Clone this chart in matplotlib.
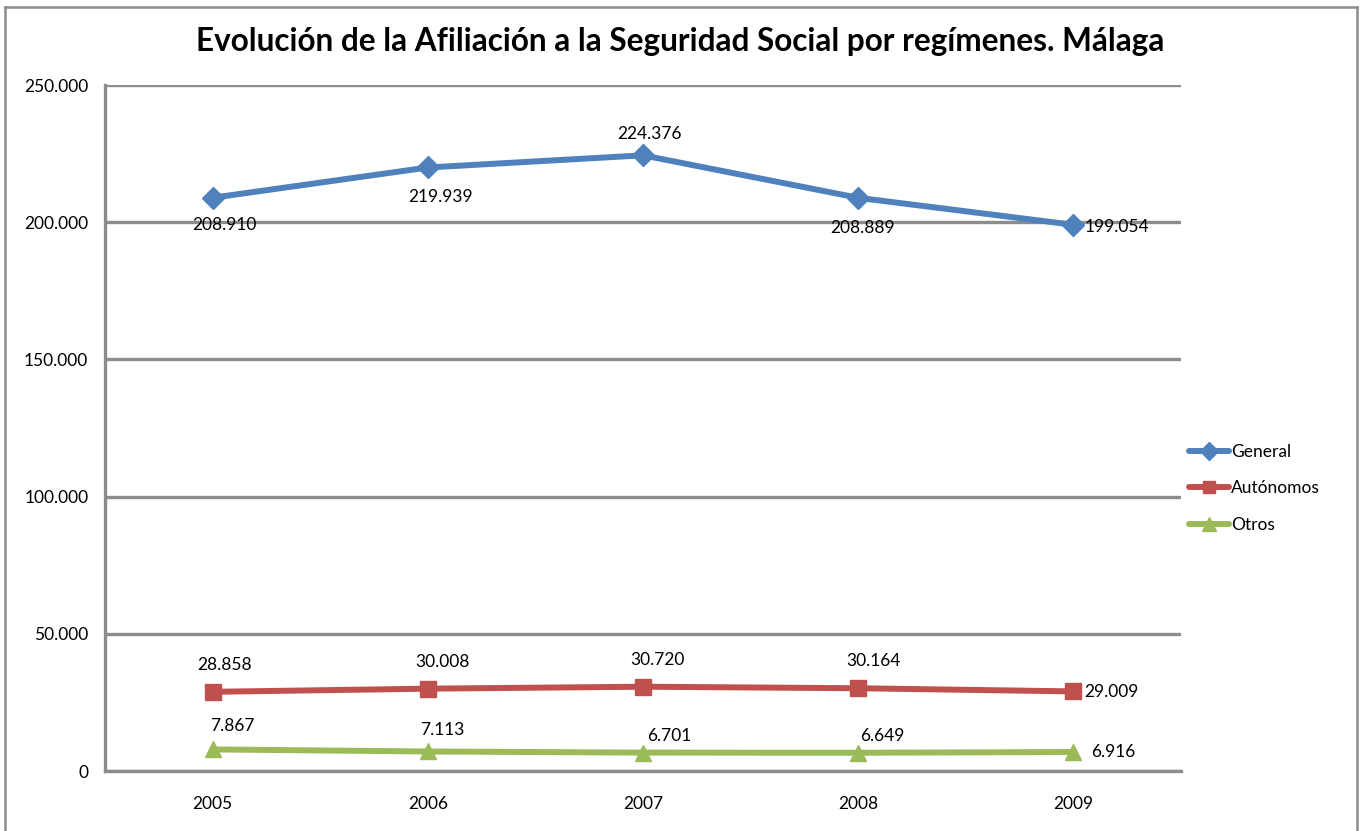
import matplotlib
matplotlib.use('Agg')
import matplotlib.pyplot as plt
from matplotlib.lines import Line2D
from matplotlib.ticker import FuncFormatter

years = ['2005', '2006', '2007', '2008', '2009']
general = [208910, 219939, 224376, 208889, 199054]
autonomos = [28858, 30008, 30720, 30164, 29009]
otros = [7867, 7113, 6701, 6649, 6916]

plt.rcParams['font.family'] = ['Lato', 'DejaVu Sans']


def miles(v, pos=None):
    return '{:,.0f}'.format(v).replace(',', '.')


fig = plt.figure(figsize=(13.63, 8.31), dpi=100)
ax = fig.add_axes([0.077, 0.0722, 0.7895, 0.8255])

x = list(range(len(years)))
series = [
    ('General', general, '#4F81BD', 'D', 11),
    ('Autónomos', autonomos, '#C0504D', 's', 11),
    ('Otros', otros, '#9BBB59', '^', 12),
]
for name, vals, col, mk, ms in series:
    ax.plot(x, vals, color=col, lw=4.3, marker=mk, ms=ms, label=name,
            solid_capstyle='round')

# label offsets in pixels (dx, dy)
offs = {
    'General': [(12, -27), (13, -30), (6, 21), (4, -30), (44, -2)],
    'Autónomos': [(12, 27), (15, 27), (15, 27), (15, 27), (38, -1)],
    'Otros': [(20, 23), (15, 21), (26, 17), (24, 17), (40, 0)],
}
for name, vals, col, mk, ms in series:
    for i, v in enumerate(vals):
        dx, dy = offs[name][i]
        ax.annotate(miles(v), (i, v), xytext=(dx, dy), textcoords='offset pixels',
                    ha='center', va='center', fontsize=12.5, color='black')

ax.set_xlim(-0.5, 4.5)
ax.set_ylim(0, 250000)
ax.set_xticks(x)
ax.set_xticklabels(years)
ax.set_yticks(range(0, 250001, 50000))
ax.yaxis.set_major_formatter(FuncFormatter(miles))
ax.tick_params(length=0, labelsize=12.5, pad=12)
ax.tick_params(axis='x', pad=18)
ax.grid(axis='y', color='#8C8C8C', lw=2.4)
ax.set_axisbelow(True)
for s in ['top', 'right']:
    ax.spines[s].set_visible(False)
for s in ['left', 'bottom']:
    ax.spines[s].set_color('#8C8C8C')
    ax.spines[s].set_linewidth(2.4)

fig.suptitle('Evolución de la Afiliación a la Seguridad Social por regímenes. Málaga',
             x=0.499, y=0.968, fontsize=22.7, fontweight='bold')

leg = fig.legend(loc='upper left', bbox_to_anchor=(0.861, 0.485), frameon=False,
                 fontsize=12.5, handlelength=2.3, handletextpad=0.1,
                 labelspacing=1.2, markerscale=0.85)

# outer chart frame
fc = '#8C8C8C'
fig.add_artist(Line2D([5 / 1363, 5 / 1363], [0, 1 - 7 / 831], color=fc, lw=1.8))
fig.add_artist(Line2D([5 / 1363, 1357 / 1363], [1 - 7 / 831, 1 - 7 / 831], color=fc, lw=1.8))
fig.add_artist(Line2D([1357 / 1363, 1357 / 1363], [0, 1 - 7 / 831], color=fc, lw=1.8))

fig.savefig('out.png', dpi=100)
